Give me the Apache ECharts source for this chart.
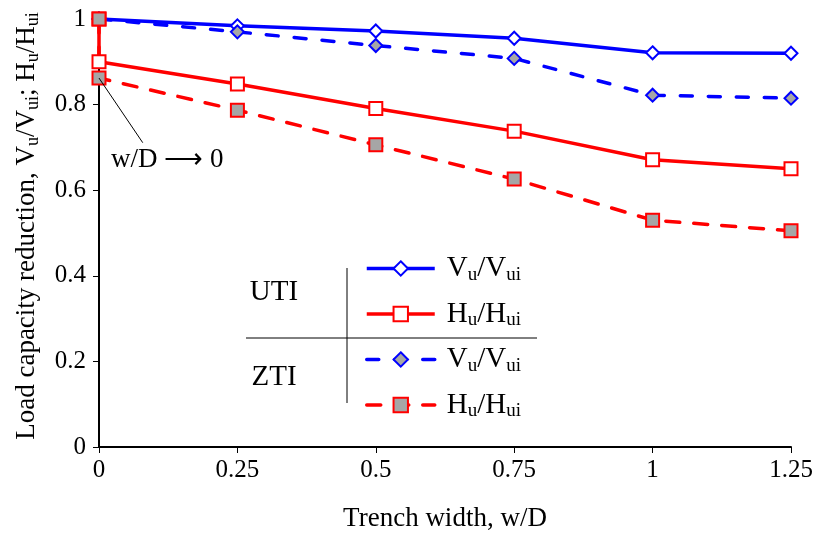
<!DOCTYPE html>
<html><head><meta charset="utf-8">
<script src="https://cdn.jsdelivr.net/npm/echarts@6/dist/echarts.min.js"></script>
<style>html,body{margin:0;padding:0;background:#fff}#c{width:814px;height:533px}</style>
</head><body><div id="c"></div>
<script>
// Trench width w/D
const widthsV = [0, 0.25, 0.5, 0.75, 1, 1.25];
const widthsH = [0, 0, 0.25, 0.5, 0.75, 1, 1.25]; // second 0 = limit w/D -> 0
const utiV = [1.0, 0.984, 0.972, 0.955, 0.921, 0.920];
const ztiV = [1.0, 0.970, 0.938, 0.908, 0.822, 0.815];
const utiH = [1.0, 0.900, 0.848, 0.791, 0.738, 0.671, 0.650];
const ztiH = [1.0, 0.862, 0.787, 0.706, 0.626, 0.530, 0.505];
const annotFrom = [0, 0.862];
const annotTo = [0.079, 0.711];

const FONT = '"Liberation Serif","Times New Roman",serif';
const BLUE = '#0000ff', RED = '#ff0000', GRAY = '#a6a6a6';
const zip = (xs, ys) => xs.map((x, i) => [x, ys[i]]);

const legendLabels = {
  'UTI V': '{m|V}{s|u}{m|/V}{s|ui}',
  'UTI H': '{m|H}{s|u}{m|/H}{s|ui}',
  'ZTI V': '{m|V}{s|u}{m|/V}{s|ui}',
  'ZTI H': '{m|H}{s|u}{m|/H}{s|ui}'
};

const chart = echarts.init(document.getElementById('c'), null, {renderer: 'canvas'});
const dash = [12, 16];
const LW = 3.5;
chart.setOption({
  animation: false,
  backgroundColor: '#fff',
  textStyle: {fontFamily: FONT, color: '#000'},
  grid: {left: 99, right: 23, top: 19, bottom: 86, containLabel: false, outerBoundsMode: 'none'},
  xAxis: {
    type: 'value', min: 0, max: 1.25, interval: 0.25,
    name: 'Trench width, w/D', nameLocation: 'middle', nameGap: 58,
    nameTextStyle: {fontFamily: FONT, fontSize: 27, color: '#000'},
    axisLine: {show: true, lineStyle: {color: '#000', width: 2}},
    axisTick: {show: true, length: 6, lineStyle: {color: '#000', width: 1}},
    axisLabel: {fontFamily: FONT, fontSize: 25, color: '#000', margin: 11,
      formatter: v => String(v)},
    splitLine: {show: false}
  },
  yAxis: {
    type: 'value', min: 0, max: 1, interval: 0.2,
    axisLine: {show: true, lineStyle: {color: '#000', width: 2}},
    axisTick: {show: true, length: 6, lineStyle: {color: '#000', width: 1}},
    axisLabel: {fontFamily: FONT, fontSize: 25, color: '#000', margin: 13,
      formatter: v => String(Math.round(v * 10) / 10)},
    splitLine: {show: false}
  },
  legend: {
    orient: 'vertical', left: 360, top: 249,
    itemWidth: 68, itemHeight: 18, itemGap: 15,
    selectedMode: false,
    data: ['UTI V', 'UTI H', 'ZTI V', 'ZTI H'],
    formatter: n => legendLabels[n],
    lineStyle: {width: LW},
    textStyle: {
      fontFamily: FONT, color: '#000', padding: [0, 0, 0, 7],
      rich: {
        m: {fontFamily: FONT, fontSize: 29, lineHeight: 32, color: '#000'},
        s: {fontFamily: FONT, fontSize: 19, lineHeight: 14, verticalAlign: 'bottom', color: '#000'}
      }
    }
  },
  graphic: [
    {type: 'line', shape: {x1: 246, y1: 338, x2: 537, y2: 338}, style: {stroke: '#000', lineWidth: 1}},
    {type: 'line', shape: {x1: 347, y1: 268, x2: 347, y2: 403}, style: {stroke: '#000', lineWidth: 1}},
    {type: 'text', x: 274, y: 292, style: {text: 'UTI', font: '29px ' + FONT, fill: '#000', align: 'center', verticalAlign: 'middle'}},
    {type: 'text', x: 274, y: 377, style: {text: 'ZTI', font: '29px ' + FONT, fill: '#000', align: 'center', verticalAlign: 'middle'}},
    {type: 'text', x: 111, y: 160, style: {text: 'w/D \u27F6 0', font: '27px ' + FONT, fill: '#000', align: 'left', verticalAlign: 'middle'}},
    {type: 'text', x: 27, y: 226, rotation: Math.PI / 2,
      style: {
        text: '{m|Load capacity reduction, V}{s|u}{m|/V}{s|ui}{m|; H}{s|u}{m|/H}{s|ui}',
        align: 'center', verticalAlign: 'middle',
        rich: {
          m: {fontFamily: FONT, fontSize: 27, lineHeight: 30, fill: '#000'},
          s: {fontFamily: FONT, fontSize: 18, lineHeight: 14, verticalAlign: 'bottom', fill: '#000'}
        }
      }}
  ],
  series: [
    {
      name: 'UTI V', type: 'line', data: zip(widthsV, utiV), clip: false,
      symbol: 'diamond', symbolSize: 13,
      lineStyle: {color: BLUE, width: LW},
      itemStyle: {color: '#fff', borderColor: BLUE, borderWidth: 2}
    },
    {
      name: 'ZTI V', type: 'line', data: zip(widthsV, ztiV), clip: false,
      symbol: 'diamond', symbolSize: 13,
      lineStyle: {color: BLUE, width: LW, type: dash, cap: 'round'},
      itemStyle: {color: GRAY, borderColor: BLUE, borderWidth: 2}
    },
    {
      name: 'UTI H', type: 'line', data: zip(widthsH, utiH), clip: false,
      symbol: 'rect', symbolSize: 13,
      lineStyle: {color: RED, width: LW},
      itemStyle: {color: '#fff', borderColor: RED, borderWidth: 2}
    },
    {
      name: 'ZTI H', type: 'line', data: zip(widthsH, ztiH), clip: false,
      symbol: 'rect', symbolSize: 13,
      lineStyle: {color: RED, width: LW, type: [14, 14], cap: 'round'},
      itemStyle: {color: GRAY, borderColor: RED, borderWidth: 2},
      markLine: {
        silent: true, symbol: ['none', 'none'], label: {show: false},
        lineStyle: {color: '#000', width: 1, type: 'solid'},
        data: [[{coord: annotFrom}, {coord: annotTo}]]
      }
    }
  ]
});
</script>
</body></html>
